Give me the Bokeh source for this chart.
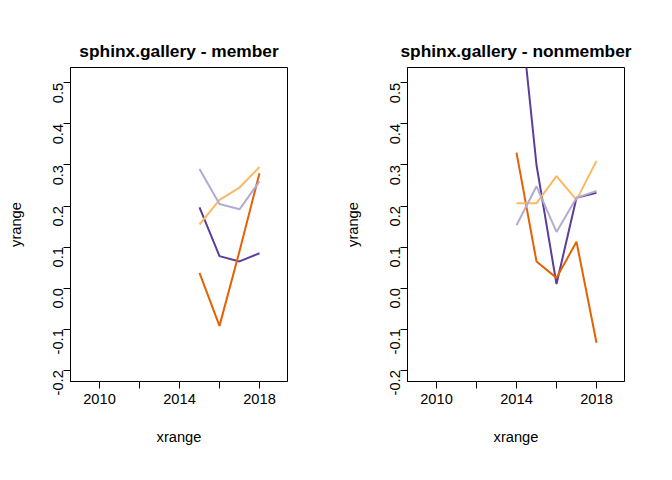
import math
from bokeh.plotting import figure
from bokeh.layouts import gridplot
from bokeh.models import PrintfTickFormatter
from bokeh.embed import file_html
from bokeh.resources import INLINE

years_member = [2015, 2016, 2017, 2018]
member = {
    "#5e3c99": [0.197, 0.078, 0.065, 0.085],
    "#e66101": [0.037, -0.092, 0.090, 0.280],
    "#fdb863": [0.155, 0.215, 0.245, 0.295],
    "#b2abd2": [0.290, 0.205, 0.192, 0.260],
}

years_nonmember = [2014, 2015, 2016, 2017, 2018]
nonmember = {
    "#5e3c99": [0.770, 0.300, 0.010, 0.220, 0.232],
    "#e66101": [0.330, 0.065, 0.025, 0.113, -0.133],
    "#fdb863": [0.207, 0.207, 0.273, 0.215, 0.310],
    "#b2abd2": [0.153, 0.248, 0.137, 0.220, 0.237],
}

x_ticks = [2010, 2012, 2014, 2016, 2018]
y_ticks = [-0.2, -0.1, 0.0, 0.1, 0.2, 0.3, 0.4, 0.5]


def panel(title, years, series, left, right):
    p = figure(width=328, height=464, x_range=(2008.55, 2019.4), y_range=(-0.2275, 0.5375),
               output_backend="svg", toolbar_location=None, title=title,
               min_border_left=left, min_border_right=right, min_border_top=67, min_border_bottom=83)
    p.title.align = "center"
    p.title.text_font = "Liberation Sans"
    p.title.text_font_size = "13pt"
    p.title.text_font_style = "bold"
    p.title.text_color = "black"
    p.title.standoff = 14
    p.outline_line_color = "black"
    p.xgrid.visible = False
    p.ygrid.visible = False
    p.xaxis.ticker = x_ticks
    p.xaxis.major_label_overrides = {2012: "", 2016: ""}
    p.yaxis.ticker = y_ticks
    p.yaxis.formatter = PrintfTickFormatter(format="%.1f")
    p.yaxis.major_label_orientation = math.pi / 2
    p.xaxis.axis_label = "xrange"
    p.yaxis.axis_label = "yrange"
    for ax in (p.xaxis, p.yaxis):
        ax.minor_tick_line_color = None
        ax.major_tick_out = 7
        ax.major_tick_in = 0
        ax.major_label_text_font = "Liberation Sans"
        ax.major_label_text_font_size = "11pt"
        ax.major_label_text_color = "black"
        ax.axis_label_text_font = "Liberation Sans"
        ax.axis_label_text_font_size = "11pt"
        ax.axis_label_text_font_style = "normal"
        ax.axis_label_text_color = "black"
        ax.axis_label_standoff = 22
    for color, vals in series.items():
        p.line(years, vals, line_color=color, line_width=2)
    return p


p1 = panel("sphinx.gallery - member", years_member, member, 70, 41)
p2 = panel("sphinx.gallery - nonmember", years_nonmember, nonmember, 79, 32)
p = gridplot([[p1, p2]], toolbar_location=None)

open("out.html", "w").write(file_html(p, INLINE))
